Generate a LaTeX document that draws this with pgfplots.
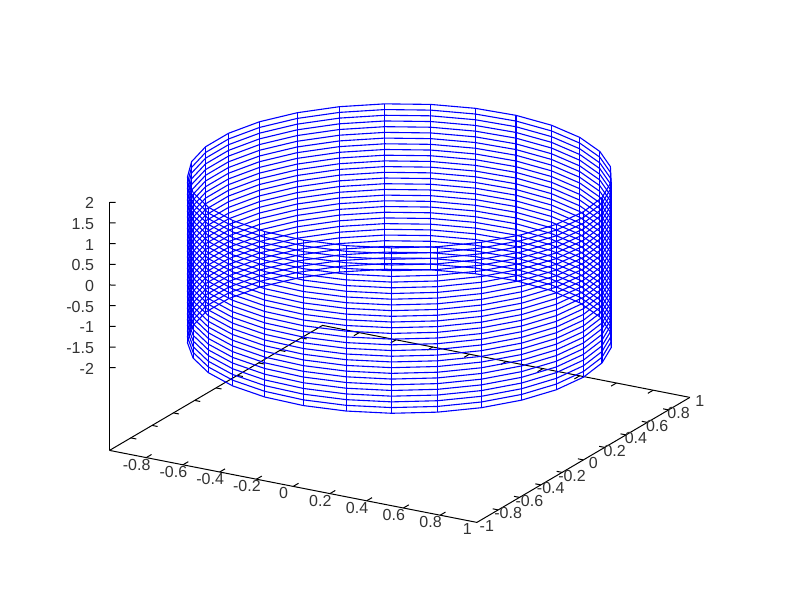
\documentclass[border=0pt]{standalone}
\usepackage{pgfplots}
\usepackage{pgfplotstable}
\usepackage{fontspec}
\setmainfont{Liberation Sans}
\pgfplotsset{compat=1.18}
\definecolor{gpblue}{RGB}{0,0,255}
\definecolor{gptext}{RGB}{50,50,50}
% one ring of the wire-frame (30 samples of the circle)
\pgfplotstableread{
x y z
1.0000 0.0000 0
0.9766 0.2150 0
0.9076 0.4199 0
0.7961 0.6052 0
0.6474 0.7622 0
0.4684 0.8835 0
0.2675 0.9635 0
0.0541 0.9985 0
-0.1618 0.9868 0
-0.3701 0.9290 0
-0.5612 0.8277 0
-0.7260 0.6877 0
-0.8568 0.5156 0
-0.9477 0.3193 0
-0.9941 0.1081 0
-0.9941 -0.1081 0
-0.9477 -0.3193 0
-0.8568 -0.5156 0
-0.7260 -0.6877 0
-0.5612 -0.8277 0
-0.3701 -0.9290 0
-0.1618 -0.9868 0
0.0541 -0.9985 0
0.2675 -0.9635 0
0.4684 -0.8835 0
0.6474 -0.7622 0
0.7961 -0.6052 0
0.9076 -0.4199 0
0.9766 -0.2150 0
1.0000 0.0000 0
}\ringtable
\begin{document}
\begin{tikzpicture}[x=1pt,y=1pt]
\useasboundingbox (0,0) rectangle (800,600);
\begin{axis}[
  at={(399.7pt,341.5pt)}, anchor=origin,
  x={(183.7pt,-36pt)}, y={(106.5pt,62.5pt)}, z={(0pt,41.35pt)},
  xmin=-1,xmax=1,ymin=-1,ymax=1,zmin=-4,zmax=2,
  axis lines=left,
  axis line style={-,black,line width=1pt},
  clip=false,
  font=\fontsize{16}{16}\selectfont,
  tick style={draw=none},
  xtick={-0.8,-0.6,-0.4,-0.2,0,0.2,0.4,0.6,0.8,1},
  xticklabels={-0.8,-0.6,-0.4,-0.2,0,0.2,0.4,0.6,0.8,1},
  ytick={-1,-0.8,-0.6,-0.4,-0.2,0,0.2,0.4,0.6,0.8,1},
  yticklabels={-1,-0.8,-0.6,-0.4,-0.2,0,0.2,0.4,0.6,0.8,1},
  ztick={-2,-1.5,-1,-0.5,0,0.5,1,1.5,2},
  zticklabels={-2,-1.5,-1,-0.5,0,0.5,1,1.5,2},
  major tick length=6pt,
  tick label style={text=gptext,inner sep=0pt,outer sep=0pt},
  x tick label style={anchor=center,xshift=-7pt,yshift=-5.5pt},
  y tick label style={anchor=center,xshift=7pt,yshift=-3pt},
  z tick label style={anchor=east,xshift=-13pt,yshift=0.5pt},
]
% back edges of the floor
\addplot3[black,line width=1pt,no markers,forget plot] coordinates {(-1,-1,-4)(-1,1,-4)(1,1,-4)};
% tick marks on the floor edges and the z axis
\addplot3[black,line width=1pt,no markers,empty line=jump,forget plot] table {
x y z
-0.8 -1 -4
-0.8 -0.95 -4

-0.6 -1 -4
-0.6 -0.95 -4

-0.4 -1 -4
-0.4 -0.95 -4

-0.2 -1 -4
-0.2 -0.95 -4

0 -1 -4
0 -0.95 -4

0.2 -1 -4
0.2 -0.95 -4

0.4 -1 -4
0.4 -0.95 -4

0.6 -1 -4
0.6 -0.95 -4

0.8 -1 -4
0.8 -0.95 -4

-0.8 1 -4
-0.8 0.95 -4

-0.6 1 -4
-0.6 0.95 -4

-0.4 1 -4
-0.4 0.95 -4

-0.2 1 -4
-0.2 0.95 -4

0 1 -4
0 0.95 -4

0.2 1 -4
0.2 0.95 -4

0.4 1 -4
0.4 0.95 -4

0.6 1 -4
0.6 0.95 -4

0.8 1 -4
0.8 0.95 -4

1 -0.8 -4
0.97 -0.8 -4

1 -0.6 -4
0.97 -0.6 -4

1 -0.4 -4
0.97 -0.4 -4

1 -0.2 -4
0.97 -0.2 -4

1 0 -4
0.97 0 -4

1 0.2 -4
0.97 0.2 -4

1 0.4 -4
0.97 0.4 -4

1 0.6 -4
0.97 0.6 -4

1 0.8 -4
0.97 0.8 -4

-1 -0.8 -4
-0.97 -0.8 -4

-1 -0.6 -4
-0.97 -0.6 -4

-1 -0.4 -4
-0.97 -0.4 -4

-1 -0.2 -4
-0.97 -0.2 -4

-1 0 -4
-0.97 0 -4

-1 0.2 -4
-0.97 0.2 -4

-1 0.4 -4
-0.97 0.4 -4

-1 0.6 -4
-0.97 0.6 -4

-1 0.8 -4
-0.97 0.8 -4

-1 -1 -2
-0.9755 -0.9859 -2

-1 -1 -1.5
-0.9755 -0.9859 -1.5

-1 -1 -1
-0.9755 -0.9859 -1

-1 -1 -0.5
-0.9755 -0.9859 -0.5

-1 -1 0
-0.9755 -0.9859 0

-1 -1 0.5
-0.9755 -0.9859 0.5

-1 -1 1
-0.9755 -0.9859 1

-1 -1 1.5
-0.9755 -0.9859 1.5

-1 -1 2
-0.9755 -0.9859 2
};
% vertical wires
\addplot3[gpblue,line width=1.1pt,no markers,empty line=jump,forget plot] table {
x y z
1.0000 0.0000 -2
1.0000 0.0000 2

0.9766 0.2150 -2
0.9766 0.2150 2

0.9076 0.4199 -2
0.9076 0.4199 2

0.7961 0.6052 -2
0.7961 0.6052 2

0.6474 0.7622 -2
0.6474 0.7622 2

0.4684 0.8835 -2
0.4684 0.8835 2

0.2675 0.9635 -2
0.2675 0.9635 2

0.0541 0.9985 -2
0.0541 0.9985 2

-0.1618 0.9868 -2
-0.1618 0.9868 2

-0.3701 0.9290 -2
-0.3701 0.9290 2

-0.5612 0.8277 -2
-0.5612 0.8277 2

-0.7260 0.6877 -2
-0.7260 0.6877 2

-0.8568 0.5156 -2
-0.8568 0.5156 2

-0.9477 0.3193 -2
-0.9477 0.3193 2

-0.9941 0.1081 -2
-0.9941 0.1081 2

-0.9941 -0.1081 -2
-0.9941 -0.1081 2

-0.9477 -0.3193 -2
-0.9477 -0.3193 2

-0.8568 -0.5156 -2
-0.8568 -0.5156 2

-0.7260 -0.6877 -2
-0.7260 -0.6877 2

-0.5612 -0.8277 -2
-0.5612 -0.8277 2

-0.3701 -0.9290 -2
-0.3701 -0.9290 2

-0.1618 -0.9868 -2
-0.1618 -0.9868 2

0.0541 -0.9985 -2
0.0541 -0.9985 2

0.2675 -0.9635 -2
0.2675 -0.9635 2

0.4684 -0.8835 -2
0.4684 -0.8835 2

0.6474 -0.7622 -2
0.6474 -0.7622 2

0.7961 -0.6052 -2
0.7961 -0.6052 2

0.9076 -0.4199 -2
0.9076 -0.4199 2

0.9766 -0.2150 -2
0.9766 -0.2150 2
};
% horizontal rings, one per z level
\pgfplotsinvokeforeach{-2,-1.8621,-1.7241,-1.5862,-1.4483,-1.3103,-1.1724,-1.0345,-0.8966,-0.7586,-0.6207,-0.4828,-0.3448,-0.2069,-0.0690,0.0690,0.2069,0.3448,0.4828,0.6207,0.7586,0.8966,1.0345,1.1724,1.3103,1.4483,1.5862,1.7241,1.8621,2}{
  \addplot3[gpblue,line width=1.1pt,no markers,forget plot] table[x=x,y=y,z expr=#1] {\ringtable};
}
\end{axis}
\end{tikzpicture}
\end{document}
